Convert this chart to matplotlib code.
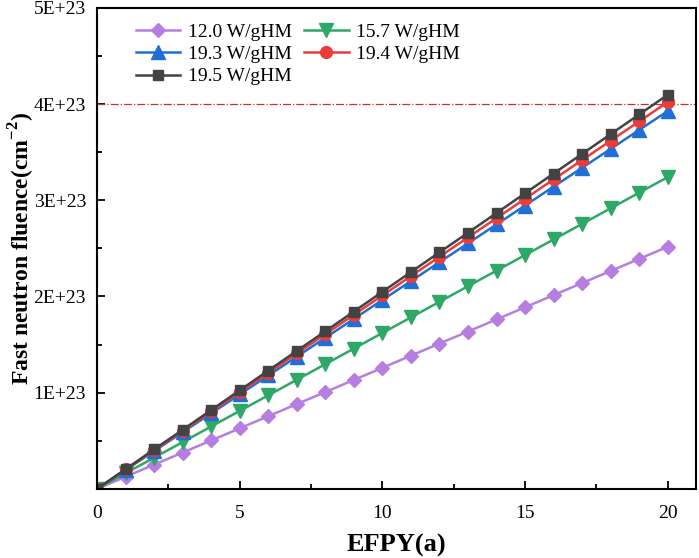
import matplotlib
matplotlib.use("Agg")
import matplotlib.pyplot as plt
from matplotlib.ticker import MultipleLocator, FuncFormatter

plt.rcParams['font.family'] = ['Liberation Serif', 'DejaVu Serif']
plt.rcParams['mathtext.fontset'] = 'custom'
plt.rcParams['mathtext.rm'] = 'Liberation Serif'
plt.rcParams['mathtext.bf'] = 'Liberation Serif:bold'

efpy = list(range(21))
# fluence in units of 1E+23 cm^-2
f120 = [0, 0.126, 0.252, 0.377, 0.503, 0.629, 0.755, 0.881, 1.006, 1.132, 1.258,
        1.384, 1.510, 1.635, 1.761, 1.887, 2.013, 2.139, 2.264, 2.390, 2.516]
f157 = [0, 0.162, 0.324, 0.486, 0.648, 0.810, 0.972, 1.134, 1.296, 1.458, 1.620,
        1.782, 1.944, 2.106, 2.268, 2.430, 2.592, 2.754, 2.916, 3.078, 3.240]
f193 = [0, 0.196, 0.393, 0.589, 0.785, 0.982, 1.178, 1.374, 1.570, 1.767, 1.963,
        2.159, 2.356, 2.552, 2.748, 2.945, 3.141, 3.337, 3.533, 3.730, 3.926]
f194 = [0, 0.201, 0.402, 0.603, 0.804, 1.005, 1.206, 1.407, 1.608, 1.809, 2.010,
        2.211, 2.412, 2.613, 2.814, 3.015, 3.216, 3.417, 3.618, 3.819, 4.020]
f195 = [0, 0.205, 0.410, 0.614, 0.819, 1.024, 1.229, 1.434, 1.638, 1.843, 2.048,
        2.253, 2.458, 2.662, 2.867, 3.072, 3.277, 3.482, 3.686, 3.891, 4.096]
limit = 4.0

fig = plt.figure(figsize=(6.99, 5.58), dpi=100)
ax = fig.add_axes([0.139, 0.124, 0.857, 0.862])

ax.axhline(limit, color='#c83030', lw=0.9, ls='-.')
l120, = ax.plot(efpy, f120, color='#b57ee0', marker='D', ms=7.5, lw=1.8, label='12.0 W/gHM')
l157, = ax.plot(efpy, f157, color='#2ea866', marker='v', ms=9.5, lw=1.8, label='15.7 W/gHM')
l193, = ax.plot(efpy, f193, color='#1f6fd6', marker='^', ms=9.5, lw=1.8, label='19.3 W/gHM')
l194, = ax.plot(efpy, f194, color='#ec3b3b', marker='o', ms=8.5, lw=1.8, label='19.4 W/gHM')
l195, = ax.plot(efpy, f195, color='#434343', marker='s', ms=7.5, lw=1.8, label='19.5 W/gHM')

ax.set_xlim(0, 21)
ax.set_ylim(0, 5)
ax.xaxis.set_major_locator(MultipleLocator(5))
ax.xaxis.set_minor_locator(MultipleLocator(2.5))
ax.yaxis.set_major_locator(MultipleLocator(1))
ax.yaxis.set_minor_locator(MultipleLocator(0.5))
ax.yaxis.set_major_formatter(FuncFormatter(lambda v, p: '' if v == 0 else '%dE+23' % round(v)))
ax.tick_params(which='both', direction='in', labelsize=14)
ax.tick_params(axis='x', pad=12)
ax.tick_params(axis='y', pad=8)
ax.tick_params(which='major', length=6, width=1.3)
ax.tick_params(which='minor', length=3.5, width=1.3)
for s in ax.spines.values():
    s.set_linewidth(1.5)

ax.set_xlabel('EFPY(a)', fontsize=19, fontweight='bold', labelpad=8)
ax.set_ylabel('Fast neutron fluence(cm$^{\\mathbf{-2}}$)', fontsize=17, fontweight='bold')
ax.yaxis.set_label_coords(-0.1, 0.5)
ax.legend([l120, l193, l195, l157, l194],
          ['12.0 W/gHM', '19.3 W/gHM', '19.5 W/gHM', '15.7 W/gHM', '19.4 W/gHM'],
          ncol=2, frameon=False, fontsize=14, loc='upper left', bbox_to_anchor=(0.035, 1.005),
          handlelength=2.3, columnspacing=0.6, handletextpad=0.4, labelspacing=0.25)

fig.savefig('out.png', dpi=100)
